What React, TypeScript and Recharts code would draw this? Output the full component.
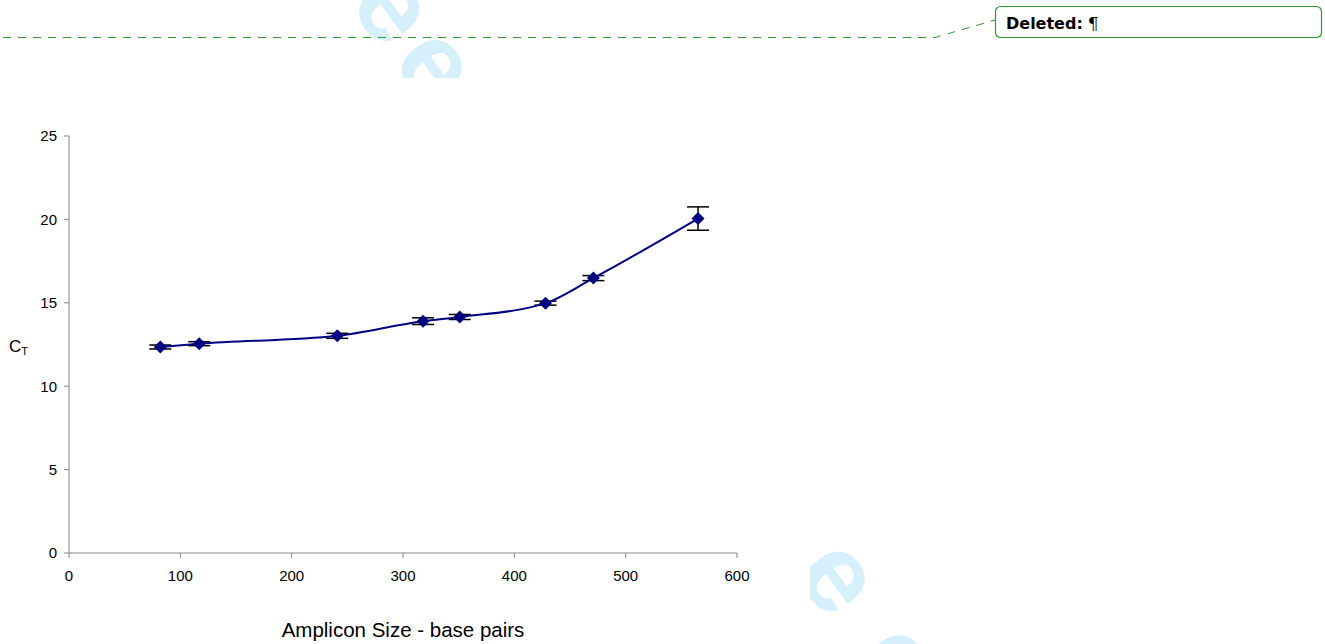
import { ErrorBar, Line, LineChart, XAxis, YAxis } from "recharts";

// amplicon size (bp) vs threshold cycle
const SIZES = [82, 117, 241, 318, 351, 428, 471, 565];
const CT = [12.35, 12.55, 13.02, 13.9, 14.15, 14.98, 16.48, 20.05];
const CT_ERR = [0.12, 0.12, 0.15, 0.2, 0.15, 0.12, 0.15, 0.7];
const X_TICKS = [0, 100, 200, 300, 400, 500, 600];
const Y_TICKS = [0, 5, 10, 15, 20, 25];

const DATA = SIZES.map((bp, i) => ({ bp, ct: CT[i], err: CT_ERR[i] }));

const NAVY = "#000080";
const AXIS = "#868686";
const GREEN = "#339933";
const WATERMARK = "#d5effb";
const FONT = "'Liberation Sans', Arial, sans-serif";

function Diamond(props: any) {
  const { cx, cy } = props;
  if (cx == null || cy == null) return null;
  const r = 6.5;
  return (
    <polygon
      points={`${cx},${cy - r} ${cx + r},${cy} ${cx},${cy + r} ${cx - r},${cy}`}
      fill={NAVY}
    />
  );
}

function Watermark() {
  const text = (x: number, y: number, s: string, spacing: number) => (
    <text
      x={x}
      y={y}
      transform={`rotate(54 ${x} ${y})`}
      fill={WATERMARK}
      fontFamily={FONT}
      fontWeight="bold"
      fontSize={110}
      letterSpacing={spacing}
    >
      {s}
    </text>
  );
  return (
    <svg width={1325} height={644} style={{ position: "absolute", left: 0, top: 0 }}>
      {text(150, -269, "For Peer Review", 11)}
      {text(793, 573, "eer Review", 42)}
    </svg>
  );
}

function Annotation() {
  return (
    <svg width={1325} height={644} style={{ position: "absolute", left: 0, top: 0 }}>
      <polyline
        points="3,37.5 935,37.5 995,20"
        fill="none"
        stroke={GREEN}
        strokeWidth={1}
        strokeDasharray="8 7"
      />
      <rect x={995.5} y={6.5} width={326} height={31} rx={5} fill="#fff" stroke={GREEN} strokeWidth={1.2} />
      <text x={1006} y={29} fontFamily="'DejaVu Sans', sans-serif" fontWeight="bold" fontSize={16} fill="#000">
        Deleted:
        <tspan fontFamily="'DejaVu Serif', serif" fontWeight="normal" fontSize={17} dx={5}>
          ¶
        </tspan>
      </text>
    </svg>
  );
}

export default function App() {
  return (
    <div style={{ position: "absolute", left: 0, top: 0, width: 1325, height: 644, background: "#fff", overflow: "hidden" }}>
      <Watermark />
      <div style={{ position: "absolute", left: 0, top: 78, width: 810, height: 566, background: "#fff" }}>
        <LineChart width={810} height={566} data={DATA} margin={{ top: 58, right: 73, bottom: 61, left: 0 }}>
          <XAxis
            type="number"
            dataKey="bp"
            domain={[0, 600]}
            ticks={X_TICKS}
            interval={0}
            height={30}
            tickSize={5}
            tickMargin={12}
            stroke={AXIS}
            tick={{ fill: "#000", fontSize: 15, fontFamily: FONT }}
          />
          <YAxis
            type="number"
            domain={[0, 25]}
            ticks={Y_TICKS}
            interval={0}
            width={69}
            tickSize={5}
            tickMargin={7}
            stroke={AXIS}
            tick={{ fill: "#000", fontSize: 15, fontFamily: FONT }}
          />
          <Line
            type="monotone"
            dataKey="ct"
            stroke={NAVY}
            strokeWidth={2}
            isAnimationActive={false}
            dot={false}
            activeDot={false}
          >
            <ErrorBar dataKey="err" direction="y" width={11} stroke="#000" strokeWidth={1.5} />
          </Line>
          <Line
            type="monotone"
            dataKey="ct"
            stroke="none"
            isAnimationActive={false}
            dot={(p: any) => <Diamond key={p.index} {...p} />}
            activeDot={false}
          />
        </LineChart>
        <div
          style={{
            position: "absolute",
            left: 0,
            width: 806,
            top: 541,
            textAlign: "center",
            fontFamily: FONT,
            fontSize: 20.5,
            lineHeight: "22px",
            color: "#000",
          }}
        >
          Amplicon Size - base pairs
        </div>
        <div
          style={{
            position: "absolute",
            left: 9,
            top: 259,
            fontFamily: FONT,
            fontSize: 17,
            lineHeight: "20px",
            color: "#000",
          }}
        >
          C<sub style={{ fontSize: 11, verticalAlign: "-3px" }}>T</sub>
        </div>
      </div>
      <Annotation />
    </div>
  );
}
